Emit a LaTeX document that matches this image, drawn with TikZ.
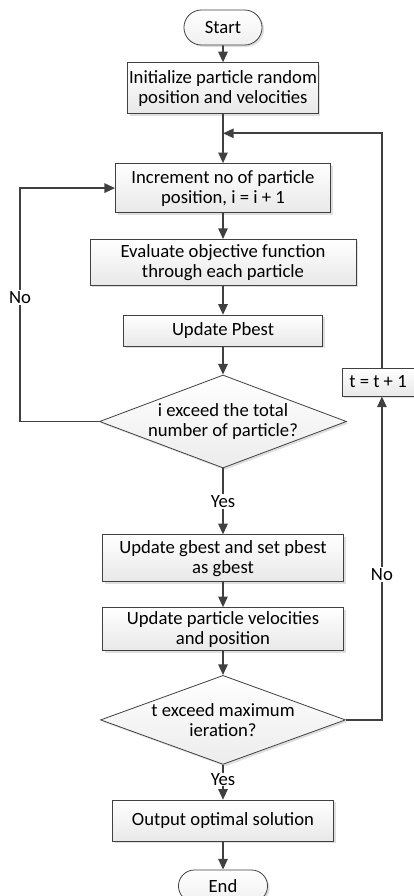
\documentclass[tikz,border=0pt]{standalone}
\usepackage{fontspec}
\setmainfont{Carlito}
\usetikzlibrary{shapes,arrows.meta,positioning,calc,shadows}
\definecolor{linegray}{HTML}{404040}

\begin{document}
\begin{tikzpicture}[
        x=0.75pt, y=-0.75pt,
        font=\fontsize{14pt}{15pt}\selectfont,
        >={Triangle[length=8pt,width=7pt]},
        box/.style={rectangle, draw=linegray, line width=0.6pt, top color=white, bottom color=gray!18, drop shadow={shadow xshift=1.5pt, shadow yshift=-1.5pt, opacity=0.25}, inner xsep=1pt, inner ysep=2pt, align=center},
        term/.style={rounded rectangle, draw=linegray, line width=0.6pt, top color=white, bottom color=gray!12, drop shadow={shadow xshift=1.5pt, shadow yshift=-1.5pt, opacity=0.25}, align=center},
        decision/.style={diamond, draw=linegray, line width=0.6pt, top color=white, bottom color=gray!15, drop shadow={shadow xshift=1.5pt, shadow yshift=-1.5pt, opacity=0.25}, aspect=2.65, inner sep=-3pt, align=center},
        flow/.style={->, draw=linegray, line width=1.3pt},
        lbl/.style={fill=white, inner sep=1pt}
    ]
    \useasboundingbox (0,0) rectangle (414,896);

    % Start and first steps
    \node[term, minimum width=65.25pt, minimum height=26.25pt] (start) at (223,27.5) {Start};
    \node[box, below=12.75pt of start, minimum width=142.5pt, minimum height=38.25pt] (init) {Initialize particle random\\position and velocities};
    \node[box, below=36.75pt of init, minimum width=161.25pt, minimum height=36.75pt] (incr) {Increment no of particle\\position, i = i + 1};
    \node[box, below=19.5pt of incr, minimum width=199.5pt, minimum height=34.5pt] (eval) {Evaluate objective function\\through each particle};
    \node[box, below=21.75pt of eval, minimum width=149.25pt, minimum height=23.25pt] (pbest) {Update Pbest};
    \node[decision, below=21pt of pbest, minimum width=185.25pt, minimum height=69.75pt] (dec1) {i exceed the total\\number of particle?};

    % Global update
    \node[box, below=49.5pt of dec1, minimum width=180.75pt, minimum height=35.25pt] (gbest) {Update gbest and set pbest\\as gbest};
    \node[box, below=18.75pt of gbest, minimum width=180.75pt, minimum height=32.25pt] (vel) {Update particle velocities\\and position};
    \node[decision, below=18pt of vel, minimum width=183.75pt, minimum height=66.75pt] (dec2) {t exceed maximum\\ieration?};
    \node[box, below=26.25pt of dec2, minimum width=165.75pt, minimum height=30.75pt] (out) {Output optimal solution};
    \node[term, below=21pt of out, minimum width=73.5pt, minimum height=24pt] (end) {End};

    % Iteration counter
    \node[box, minimum width=54pt, minimum height=21pt, inner sep=1pt] (tinc) at (378,382) {t = t + 1};

    % Loop points
    \coordinate (join) at ($(init.south)!.39!(incr.north)$);
    \coordinate (lft) at ($(dec1.west)+(-79,0)$);
    \coordinate (rgt) at ($(dec2.east)+(36,0)$);

    % Connections
    \draw[flow] (start) -- (init);
    \draw[flow] (init) -- (incr);
    \draw[flow] (incr) -- (eval);
    \draw[flow] (eval) -- (pbest);
    \draw[flow] (pbest) -- (dec1);
    \draw[flow] (dec1) -- node[lbl] {Yes} (gbest);
    \draw[flow] (gbest) -- (vel);
    \draw[flow] (vel) -- (dec2);
    \draw[flow] (dec2) -- node[lbl, inner sep=0pt, pos=0.42] {Yes} (out);
    \draw[flow] (out) -- (end);
    \draw[flow] (dec1.west) -- (lft) |- node[lbl, pos=0.265] {No} (incr.west);
    \draw[flow] (dec2.east) -- (rgt) -- node[lbl, pos=0.45] {No} (rgt |- tinc.south);
    \draw[flow] (rgt |- tinc.north) |- (join);

\end{tikzpicture}
\end{document}
